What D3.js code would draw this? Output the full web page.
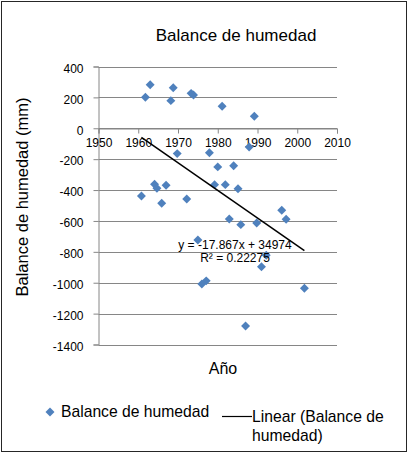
<!DOCTYPE html>
<html>
<head>
<meta charset="utf-8">
<script src="https://cdn.jsdelivr.net/npm/d3@7"></script>
<style>
  body { margin: 0; background: #fff; }
  text { font-family: "Liberation Sans", Arial, sans-serif; fill: #000; }
</style>
</head>
<body>
<svg class="chart" width="409" height="456"></svg>
<script>
var years = [1961.8, 1963.0, 1968.2, 1968.8, 1973.3, 1973.9, 1981.1, 1989.2,
  1969.8, 1977.9, 1987.9, 1980.0, 1984.0, 1960.8, 1964.1, 1964.7, 1967.0,
  1965.9, 1972.2, 1979.2, 1981.9, 1985.1, 1996.1, 1997.2, 1982.9, 1985.8,
  1989.8, 1975.0, 1992.2, 1991.0, 1976.0, 1977.1, 2001.8, 1987.0];
var balance = [201, 282, 179, 263, 226, 215, 142, 78,
  -164, -158, -121, -250, -242, -438, -362, -388, -369,
  -485, -458, -365, -365, -391, -531, -589, -587, -624,
  -613, -723, -822, -896, -1008, -988, -1036, -1280];
var xTicks = [1950, 1960, 1970, 1980, 1990, 2000, 2010];
var yTicks = [400, 200, 0, -200, -400, -600, -800, -1000, -1200, -1400];
var trendSlope = -17.867;
var trendIntercept = 34974;
var trendLabel = ["y = -17.867x + 34974", "R\u00b2 = 0.22275"];
var titleText = "Balance de humedad";
var xTitle = "A\u00f1o";
var yTitle = "Balance de humedad (mm)";
var legendNames = ["Balance de humedad", "Linear (Balance de", "humedad)"];

var svg = d3.select(".chart");
var blue = "#4f81bd";
var grid = "#868686";

var x = d3.scaleLinear().domain([1950, 2010]).range([98.5, 337]);
var y = d3.scaleLinear().domain([-1400, 400]).range([344.5, 66.5]);

// outer border
svg.append("rect")
  .attr("x", 1.5).attr("y", 1.5)
  .attr("width", 405).attr("height", 450)
  .attr("fill", "none").attr("stroke", "#262626");

// title
svg.append("text")
  .attr("x", 236).attr("y", 41)
  .attr("text-anchor", "middle")
  .style("font-size", "17px")
  .text(titleText);

// horizontal gridlines
svg.append("g").selectAll("line")
  .data(yTicks)
  .enter().append("line")
  .attr("x1", x(1950)).attr("x2", x(2010))
  .attr("y1", function (d) { return Math.round(y(d)) + 0.5; })
  .attr("y2", function (d) { return Math.round(y(d)) + 0.5; })
  .attr("stroke", grid);

// y axis, plain hyphen minus like the original
var yAxis = d3.axisLeft(y).tickValues(yTicks).tickSize(5).tickPadding(10)
  .tickFormat(function (d) { return String(d); });
var gy = svg.append("g")
  .attr("transform", "translate(" + x(1950) + ",0)")
  .call(yAxis);
gy.select(".domain").attr("stroke", grid);
gy.selectAll(".tick line").attr("stroke", grid);
gy.selectAll(".tick text")
  .attr("dy", "0.48em")
  .style("font-size", "12px")
  .style("font-family", "Liberation Sans, Arial, sans-serif")
  .attr("fill", "#000");

// x axis sits at zero
var xAxis = d3.axisBottom(x).tickValues(xTicks).tickSize(5).tickPadding(5)
  .tickFormat(function (d) { return String(d); });
var gx = svg.append("g")
  .attr("transform", "translate(0," + (Math.round(y(0)) + 0.5) + ")")
  .call(xAxis);
gx.select(".domain").attr("stroke", grid);
gx.selectAll(".tick line").attr("stroke", grid);
gx.selectAll(".tick text")
  .style("font-size", "12px")
  .style("font-family", "Liberation Sans, Arial, sans-serif")
  .attr("fill", "#000");

// axis titles
svg.append("text")
  .attr("transform", "translate(28,197) rotate(-90)")
  .attr("text-anchor", "middle")
  .style("font-size", "16.5px")
  .text(yTitle);

svg.append("text")
  .attr("x", 223).attr("y", 374)
  .attr("text-anchor", "middle")
  .style("font-size", "16px")
  .text(xTitle);

// points
var diamond = d3.symbol().type(d3.symbolSquare).size(40);
var points = years.map(function (d, i) { return { year: d, value: balance[i] }; });
svg.append("g").selectAll("path")
  .data(points)
  .enter().append("path")
  .attr("d", diamond)
  .attr("fill", blue)
  .attr("transform", function (d) {
    return "translate(" + x(d.year) + "," + y(d.value) + ") rotate(45)";
  });

// linear trend across the data range
var yrExtent = d3.extent(years);
var trend = yrExtent.map(function (yr) { return { year: yr, value: trendSlope * yr + trendIntercept }; });
svg.append("path")
  .datum(trend)
  .attr("fill", "none")
  .attr("stroke", "#000")
  .attr("stroke-width", 1.5)
  .attr("d", d3.line()
    .x(function (d) { return x(d.year); })
    .y(function (d) { return y(d.value); }));

svg.append("g").selectAll("text")
  .data(trendLabel)
  .enter().append("text")
  .attr("x", 235)
  .attr("y", function (d, i) { return 249 + i * 12.5; })
  .attr("text-anchor", "middle")
  .style("font-size", "12px")
  .text(function (d) { return d; });

// legend
svg.append("path")
  .attr("d", diamond)
  .attr("fill", blue)
  .attr("transform", "translate(50,412) rotate(45)");
svg.append("text")
  .attr("x", 61).attr("y", 417)
  .style("font-size", "15.7px")
  .text(legendNames[0]);
svg.append("line")
  .attr("x1", 222).attr("x2", 252)
  .attr("y1", 416.5).attr("y2", 416.5)
  .attr("stroke", "#000").attr("stroke-width", 1.2);
svg.append("text")
  .attr("x", 252).attr("y", 422)
  .style("font-size", "15.7px")
  .text(legendNames[1]);
svg.append("text")
  .attr("x", 252).attr("y", 441)
  .style("font-size", "15.7px")
  .text(legendNames[2]);
</script>
</body>
</html>
